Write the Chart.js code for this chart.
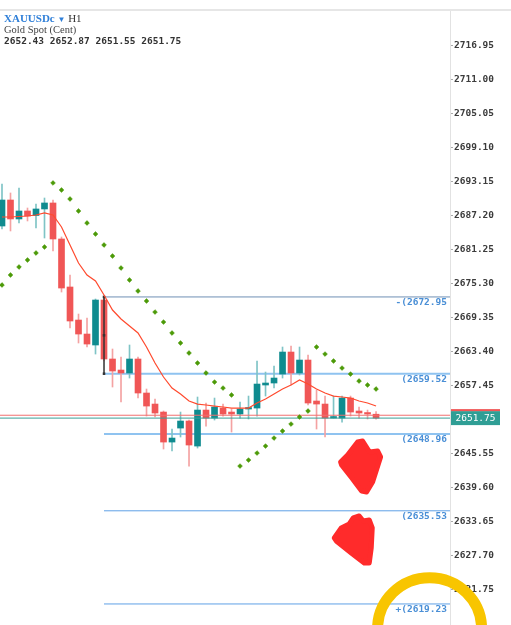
<!DOCTYPE html>
<html>
<head>
<meta charset="utf-8">
<title>XAUUSDc H1</title>
<script src="https://cdn.jsdelivr.net/npm/chart.js@4.4.1/dist/chart.umd.min.js"></script>
<style>
    html, body { margin: 0; padding: 0; background: #fff; }
    #wrap { position: relative; width: 511px; height: 625px; overflow: hidden; }
    #header { position: absolute; left: 4px; top: 12px; color: #333; line-height: 16px; }
    #header .sym { font: 11px "Liberation Serif", serif; color: #333; }
    #header .sym .name { font-weight: bold; color: #2f7fd8; }
    #header .sym .caret { color: #2f7fd8; font-size: 8px; }
    #header .desc { font: 10.5px "Liberation Serif", serif; color: #444; }
    #header .ohlc { font: bold 9.5px "DejaVu Sans Mono", monospace; color: #333; }
</style>
</head>
<body>
<div id="wrap">
    <canvas id="chart" width="511" height="625"></canvas>
    <div id="header">
        <div class="sym"><span class="name">XAUUSDc</span> <span class="caret">▼</span> H1</div>
        <div class="desc">Gold Spot (Cent)</div>
        <div class="ohlc" id="ohlc"></div>
    </div>
</div>
<script>
// H1 candles, oldest first
const opens = [2685.36, 2689.91, 2686.59, 2687.99, 2687.20, 2688.34, 2689.39, 2683.09, 2674.69, 2668.91,
    2666.46, 2664.54, 2672.41, 2662.09, 2660.16, 2659.64, 2662.09, 2656.14, 2654.21, 2652.81,
    2647.56, 2650.01, 2651.24, 2646.86, 2653.16, 2651.76, 2653.51, 2652.81, 2652.46, 2653.34,
    2653.51, 2657.54, 2657.89, 2659.46, 2663.31, 2659.64, 2661.91, 2654.74, 2654.21, 2651.76,
    2651.76, 2655.26, 2652.99, 2652.64, 2652.43];
const highs = [2692.71, 2691.14, 2692.01, 2688.51, 2689.21, 2690.26, 2689.91, 2683.44, 2676.79, 2669.96,
    2669.26, 2672.59, 2673.11, 2663.84, 2662.44, 2664.54, 2662.44, 2656.84, 2655.09, 2652.99,
    2649.84, 2652.81, 2651.41, 2655.44, 2654.39, 2655.26, 2654.21, 2653.34, 2654.56, 2655.61,
    2661.74, 2659.81, 2660.86, 2664.19, 2664.36, 2664.19, 2662.79, 2656.66, 2655.61, 2655.61,
    2655.61, 2655.61, 2653.69, 2653.16, 2652.87];
const lows = [2684.84, 2684.49, 2685.89, 2686.24, 2685.01, 2683.26, 2680.99, 2673.81, 2667.51, 2664.89,
    2664.19, 2662.96, 2661.74, 2657.19, 2654.56, 2658.76, 2655.26, 2652.11, 2651.94, 2646.34,
    2645.99, 2648.44, 2643.36, 2646.51, 2650.36, 2651.41, 2652.11, 2649.31, 2651.76, 2651.59,
    2652.11, 2655.61, 2657.01, 2658.76, 2657.54, 2659.29, 2654.04, 2649.84, 2648.44, 2651.76,
    2651.06, 2652.11, 2651.76, 2651.59, 2651.55];
const closes = [2689.91, 2686.59, 2687.99, 2687.11, 2688.34, 2689.39, 2683.09, 2674.51, 2668.74, 2666.46,
    2664.71, 2672.41, 2662.09, 2659.99, 2659.64, 2662.09, 2656.14, 2653.86, 2652.64, 2647.56,
    2648.26, 2651.24, 2647.04, 2653.16, 2651.76, 2653.69, 2652.46, 2652.46, 2653.34, 2653.51,
    2657.71, 2657.89, 2658.76, 2663.31, 2659.64, 2661.91, 2654.39, 2654.21, 2651.76, 2651.94,
    2655.26, 2652.81, 2652.64, 2652.46, 2651.75];

// moving average (red line)
const maValues = [2686.94, 2686.94, 2687.02, 2687.11, 2687.29, 2687.64, 2687.29, 2685.19, 2682.04, 2678.89,
    2676.79, 2675.74, 2673.29, 2670.66, 2669.09, 2667.86, 2666.64, 2664.19, 2661.39, 2658.94,
    2657.01, 2655.96, 2654.74, 2654.21, 2654.04, 2653.86, 2653.69, 2653.51, 2653.51, 2653.51,
    2654.39, 2655.09, 2655.96, 2656.84, 2657.54, 2658.41, 2657.71, 2656.84, 2656.14, 2655.61,
    2655.44, 2655.26, 2654.74, 2654.39, 2653.86];

// parabolic SAR (green dots)
const sarValues = [2675.04, 2676.79, 2678.19, 2679.41, 2680.64, 2681.69, 2692.89, 2691.66, 2690.09, 2687.99,
    2685.89, 2683.96, 2682.04, 2680.11, 2678.01, 2675.91, 2673.99, 2672.24, 2670.31, 2668.56,
    2666.64, 2664.89, 2663.14, 2661.39, 2659.64, 2658.06, 2657.01, 2655.79, 2643.36, 2644.41,
    2645.64, 2646.86, 2648.26, 2649.49, 2650.71, 2651.94, 2652.99, 2664.19, 2662.96, 2661.74,
    2660.51, 2659.46, 2658.24, 2657.54, 2656.84];

// price axis ticks
const yTicks = [2716.95, 2711.00, 2705.05, 2699.10, 2693.15, 2687.20, 2681.25, 2675.30, 2669.35,
    2663.40, 2657.45, 2651.50, 2645.55, 2639.60, 2633.65, 2627.70, 2621.75];

// fibo expansion levels, drawn from the anchor candle to the right edge
const fibLevels = [2672.95, 2659.52, 2648.96, 2635.53, 2619.23];
const fibLabels = ['-(2672.95', '(2659.52', '(2648.96', '(2635.53', '+(2619.23'];
const fibColors = ['#6f8fb4', '#8fc3f0', '#8fc3f0', '#5fa0e6', '#5fa0e6'];
const fibWidths = [1, 2, 2, 1, 1];
const fibAnchor = 12;

const bidPrice = 2651.75;
const askPrice = 2652.25;

const X_MIN = -0.235, X_MAX = 52.7;
const Y_MIN = 2615.55, Y_MAX = 2722.98;

const UP = '#0f8b8f', DOWN = '#f05656';
const UP_WICK = '#7fc4c6', DOWN_WICK = '#f4a2a2';
const isUp = i => closes[i] >= opens[i];
const idx = opens.map((_, i) => i);

document.getElementById('ohlc').textContent =
    [opens[44], highs[44], lows[44], closes[44]].map(v => v.toFixed(2)).join(' ');

const fibDatasets = fibLevels.map((lv, k) => ({
    type: 'line',
    data: [{ x: fibAnchor, y: lv }, { x: X_MAX, y: lv }],
    borderColor: fibColors[k],
    borderWidth: fibWidths[k],
    pointRadius: 0,
    order: 6
}));

const overlay = {
    id: 'overlay',
    beforeDraw(chart) {
        const ctx = chart.ctx;
        ctx.save();
        ctx.fillStyle = '#e6e6e6';
        ctx.fillRect(0, 9, chart.width, 2);
        ctx.restore();
    },
    afterDatasetsDraw(chart) {
        const { ctx, chartArea, scales } = chart;
        ctx.save();
        ctx.font = 'bold 9.5px "DejaVu Sans Mono", monospace';
        ctx.fillStyle = '#4a8fd6';
        ctx.textAlign = 'right';
        ctx.textBaseline = 'top';
        fibLevels.forEach((lv, k) => {
            ctx.fillText(fibLabels[k], chartArea.right - 3, scales.y.getPixelForValue(lv) + 1);
        });
        ctx.restore();
    },
    afterDraw(chart) {
        const { ctx, chartArea, scales } = chart;
        const px = v => scales.x.getPixelForValue(v);
        const py = v => scales.y.getPixelForValue(v);
        ctx.save();

        // bid price tag on the axis
        const yb = py(bidPrice);
        ctx.fillStyle = '#2f9e95';
        ctx.fillRect(chartArea.right + 1, yb - 7, 49, 14);
        ctx.fillStyle = '#f05656';
        ctx.fillRect(chartArea.right + 1, yb - 9, 49, 2);
        ctx.fillStyle = '#fff';
        ctx.font = '9.5px "DejaVu Sans Mono", monospace';
        ctx.textAlign = 'center';
        ctx.textBaseline = 'middle';
        ctx.fillText(bidPrice.toFixed(2), chartArea.right + 25.5, yb + 0.5);

        // hand drawn red arrows
        const arrows = [
            { at: [42.3, 2646.0], pts: [[-21, 11], [-14, 4], [-4, -9], [1, -10], [8, 1], [16, 0], [19, 6], [11, 31], [5, 41], [0, 40], [-9, 28], [-20, 14]] },
            { at: [41.2, 2634.8], pts: [[-18, 23], [-11, 13], [-3, 9], [1, 3], [7, 1], [11, 6], [17, 5], [20, 13], [19, 33], [17, 48], [12, 48], [-1, 38], [-16, 26]] }
        ];
        ctx.fillStyle = '#ff2b2b';
        ctx.strokeStyle = '#ff2b2b';
        ctx.lineWidth = 5;
        ctx.lineJoin = 'round';
        arrows.forEach(a => {
            const ox = px(a.at[0]), oy = py(a.at[1]);
            ctx.beginPath();
            a.pts.forEach((p, i) => i ? ctx.lineTo(ox + p[0], oy + p[1]) : ctx.moveTo(ox + p[0], oy + p[1]));
            ctx.closePath();
            ctx.fill();
            ctx.stroke();
        });

        // yellow circle
        ctx.beginPath();
        ctx.ellipse(px(50.3), py(2614.9), 52, 51, 0, 0, Math.PI * 2);
        ctx.strokeStyle = '#f8c500';
        ctx.lineWidth = 11;
        ctx.stroke();
        ctx.restore();
    }
};

new Chart(document.getElementById('chart'), {
    type: 'bar',
    data: {
        datasets: [
            {
                label: 'wick',
                data: idx.map(i => ({ x: i, y: [lows[i], highs[i]] })),
                backgroundColor: c => isUp(c.dataIndex) ? UP_WICK : DOWN_WICK,
                barThickness: 1,
                grouped: false,
                order: 5
            },
            {
                label: 'body',
                data: idx.map(i => ({ x: i, y: [opens[i], closes[i]] })),
                backgroundColor: c => isUp(c.dataIndex) ? UP : DOWN,
                barThickness: 6,
                minBarLength: 1.5,
                grouped: false,
                order: 4
            },
            ...fibDatasets,
            {
                type: 'line',
                label: 'anchor',
                data: [{ x: fibAnchor, y: fibLevels[0] }, { x: fibAnchor, y: (fibLevels[0] + fibLevels[1]) / 2 }, { x: fibAnchor, y: fibLevels[1] }],
                borderColor: '#333',
                borderWidth: 1.5,
                pointStyle: 'rect',
                pointRadius: 1.8,
                pointBackgroundColor: '#333',
                pointBorderWidth: 0,
                order: 3
            },
            {
                type: 'line',
                label: 'ask',
                data: [{ x: X_MIN, y: askPrice }, { x: X_MAX, y: askPrice }],
                borderColor: '#f07070',
                borderWidth: 1,
                pointRadius: 0,
                order: 3
            },
            {
                type: 'line',
                label: 'bid',
                data: [{ x: X_MIN, y: bidPrice }, { x: X_MAX, y: bidPrice }],
                borderColor: '#3a9e97',
                borderWidth: 1,
                pointRadius: 0,
                order: 3
            },
            {
                type: 'line',
                label: 'MA',
                data: idx.map(i => ({ x: i, y: maValues[i] })),
                borderColor: '#ff4a2e',
                borderWidth: 1.2,
                pointRadius: 0,
                order: 2
            },
            {
                type: 'line',
                label: 'SAR',
                data: idx.map(i => ({ x: i, y: sarValues[i] })),
                showLine: false,
                pointStyle: 'rectRot',
                pointRadius: 2.4,
                pointBackgroundColor: '#4c9a08',
                pointBorderColor: '#4c9a08',
                pointBorderWidth: 0.5,
                order: 1
            }
        ]
    },
    options: {
        responsive: false,
        animation: false,
        layout: { autoPadding: false, padding: { top: 11, bottom: 0, left: 0, right: 0 } },
        plugins: { legend: { display: false }, tooltip: { enabled: false } },
        scales: {
            x: { type: 'linear', min: X_MIN, max: X_MAX, offset: false, display: false },
            y: {
                position: 'right',
                min: Y_MIN,
                max: Y_MAX,
                afterBuildTicks: s => { s.ticks = yTicks.map(v => ({ value: v })); },
                afterFit: s => { s.width = 61; s.paddingTop = 0; s.paddingBottom = 0; },
                ticks: {
                    autoSkip: false,
                    padding: 1,
                    color: '#3c3c3c',
                    font: { family: 'DejaVu Sans Mono', size: 9.5, weight: 'bold' },
                    callback: v => v.toFixed(2)
                },
                grid: { drawOnChartArea: false, tickLength: 3, color: '#aaa' },
                border: { color: '#e2e2e2' }
            }
        }
    },
    plugins: [overlay]
});
</script>
</body>
</html>
